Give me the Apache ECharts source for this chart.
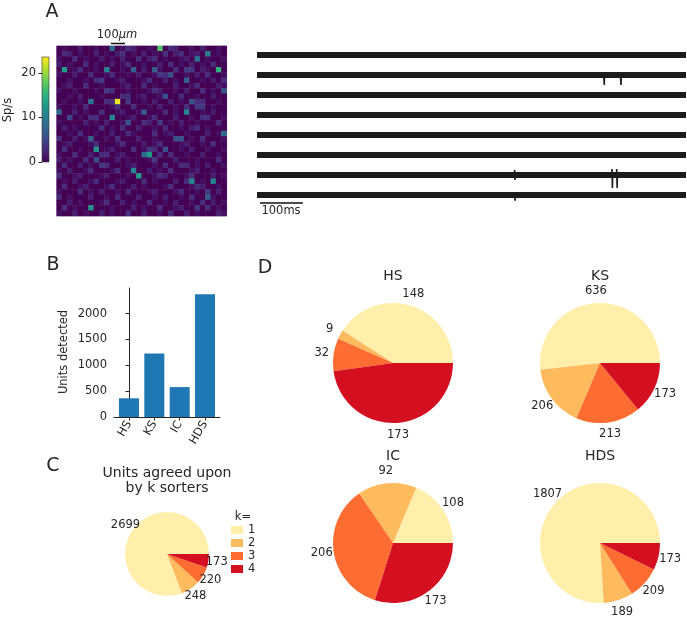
<!DOCTYPE html>
<html><head><meta charset="utf-8">
<script src="https://cdn.jsdelivr.net/npm/echarts@6/dist/echarts.min.js"></script>
<style>html,body{margin:0;padding:0;background:#fff}#c{width:687px;height:617px}</style>
</head><body><div id="c"></div>
<script>
// ---------------- data ----------------
const sorters = ['HS', 'KS', 'IC', 'HDS'];
const kLabels = ['1', '2', '3', '4'];
const unitsDetected = [362, 1228, 579, 2378];
const hsCounts = [148, 9, 32, 173];
const ksCounts = [636, 206, 213, 173];
const icCounts = [108, 92, 206, 173];
const hdsCounts = [1807, 189, 209, 173];
const agreedCounts = [2699, 248, 220, 173];
const barTicks = [0, 500, 1000, 1500, 2000];
const barCategoryTicks = [0, 1, 2, 3];
const cbarTicks = [0, 10, 20];
const cbarMax = 23.6;
// firing rate per electrode (Sp/s), one base-36 digit per cell, 32 x 32
const rateRows = [
  "0100200100801320010h032001020010",
  "0320100201023010201030230120a010",
  "10030100201020030230100120901001",
  "20100301002013001002030102010300",
  "0d0130010b00107020710030440210f0",
  "10020030013001020014360010203001",
  "00100103400120001300201070010203",
  "01200300100012003010002001300021",
  "10010001043001000132001020030106",
  "00102000100033012001600300100200",
  "01001090033n04001020020106330010",
  "10010300001300300102001030440100",
  "800201003001200170003010b0010200",
  "0050103300b001200130002001033001",
  "10000201020016003204010200100030",
  "02010000301030020010300102301000",
  "00103001002003100030120010002018",
  "30020170010300020010006601030001",
  "01200013000130002013000120010300",
  "0300100c012000301430600102001001",
  "10030020330120008d03030010020010",
  "20100306000201000140002000100030",
  "03002010430001200010300330102001",
  "10200130001300b00201030001200100",
  "300120001200010d0013200013000201",
  "0102001300012000301000203b010b00",
  "03001200013000201000130001320010",
  "10003010200103000120001300104020",
  "30100020010300020010200103007100",
  "00201000130020100300102001030201",
  "030100c0001000201003001200403010",
  "10020100201003002001030020100021"
];
// spikes on the 8 voltage traces: [time ms, up, down]
const traceSpikes = [
  [],
  [[809, 0.05, -0.5], [848, 0.05, -0.5]],
  [],
  [],
  [],
  [],
  [[601, 0.25, -0.25], [828, 0.3, -0.65], [839, 0.3, -0.65]],
  [[601, 0.05, -0.28]]
];
const traceDuration = 1000;
const timeScaleBar = [[7, -7.4], [107, -7.4]];

// ---------------- style ----------------
const FONT = 'DejaVu Sans';
const TXT = '#262626';
const kColors = ['#ffefaa', '#febb5e', '#fd6c30', '#d40f20'];
const viridis = ['#440154', '#482878', '#3e4989', '#31688e', '#26828e', '#1f9e89', '#35b779', '#6ece58', '#b5de2b', '#fde725'];

const heatData = [];
rateRows.forEach((row, r) => {
  for (let c = 0; c < row.length; c++) heatData.push([c, r, parseInt(row[c], 36)]);
});
const idx32 = Array.from({length: 32}, (_, i) => i);

const series = [];
series.push({
  type: 'heatmap', xAxisIndex: 0, yAxisIndex: 0, data: heatData,
  emphasis: {disabled: true}, silent: true
});
// traces
for (let i = 0; i < 8; i++) {
  const base = -i;
  series.push({
    type: 'line', xAxisIndex: 2, yAxisIndex: 2, symbol: 'none', silent: true,
    lineStyle: {color: '#1c1c1c', width: 6},
    data: [[0, base], [traceDuration, base]]
  });
  if (traceSpikes[i].length) {
    const pts = [[0, base]];
    traceSpikes[i].forEach(s => {
      pts.push([s[0] - 1, base], [s[0] - 0.5, base + s[1]], [s[0] + 0.5, base + s[2]], [s[0] + 1, base]);
    });
    pts.push([traceDuration, base]);
    series.push({
      type: 'line', xAxisIndex: 2, yAxisIndex: 2, symbol: 'none', silent: true,
      lineStyle: {color: '#1c1c1c', width: 1.6}, data: pts
    });
  }
}
series.push({
  type: 'line', xAxisIndex: 2, yAxisIndex: 2, symbol: 'none', silent: true,
  lineStyle: {color: '#111', width: 1.5}, data: timeScaleBar
});
// bars
series.push({
  type: 'bar', xAxisIndex: 3, yAxisIndex: 3, barWidth: 20, silent: true,
  itemStyle: {color: '#1f77b4'},
  data: unitsDetected.map((v, i) => [i, v])
});
// pies
function pies(counts, center, r) {
  const real = {
    type: 'pie', center: center, radius: r, startAngle: 0, clockwise: false,
    label: {show: false}, labelLine: {show: false}, silent: true,
    emphasis: {disabled: true}, itemStyle: {borderWidth: 0},
    data: counts.map((v, i) => ({name: kLabels[i], value: v, itemStyle: {color: kColors[i]}}))
  };
  const lab = {
    type: 'pie', center: center, radius: [r, r + 2 * (0.2 * r - 3)], startAngle: 0, clockwise: false,
    avoidLabelOverlap: false, silent: true, emphasis: {disabled: true},
    itemStyle: {color: 'rgba(0,0,0,0)', borderWidth: 0},
    label: {show: true, position: 'inside', formatter: '{c}', color: TXT, fontSize: 11.5, fontFamily: FONT},
    labelLine: {show: false},
    data: counts.map((v, i) => ({name: kLabels[i], value: v}))
  };
  return [real, lab];
}
const pieDefs = [
  [hsCounts, [393, 363], 60],
  [ksCounts, [600, 363], 60],
  [icCounts, [393, 543], 60],
  [hdsCounts, [600, 543], 60],
  [agreedCounts, [167, 554], 42]
];
const realPies = [], labPies = [];
pieDefs.forEach(d => { const p = pies(d[0], d[1], d[2]); realPies.push(p[0]); labPies.push(p[1]); });
series.push(...realPies, ...labPies);

function txt(x, y, text, size, extra) {
  return Object.assign({
    type: 'text', x: x, y: y, silent: true,
    style: Object.assign({text: text, textAlign: 'center', textVerticalAlign: 'middle',
      fontSize: size, fontFamily: FONT, fill: TXT}, (extra && extra.style) || {})
  }, extra && extra.rotation ? {rotation: extra.rotation} : {});
}

const axisCol = TXT;
const plain = v => String(v);
const option = {
  animation: false,
  backgroundColor: '#fff',
  textStyle: {fontFamily: FONT},
  grid: [
    {left: 56.7, top: 46, width: 170, height: 170, show: true, backgroundColor: 'transparent', borderColor: '#c9bccf', borderWidth: 1},
    {left: 42, top: 57, width: 7, height: 105, show: true, borderColor: '#333', borderWidth: 0.6,
      backgroundColor: {type: 'linear', x: 0, y: 1, x2: 0, y2: 0,
        colorStops: viridis.map((c, i) => ({offset: i / (viridis.length - 1), color: c}))}},
    {left: 257, top: 45, width: 429, height: 170},
    {left: 114, top: 288, width: 106, height: 129}
  ],
  xAxis: [
    {type: 'category', gridIndex: 0, data: idx32, show: false},
    {type: 'value', gridIndex: 1, show: false, min: 0, max: 1},
    {type: 'value', gridIndex: 2, show: false, min: 0, max: traceDuration},
    {type: 'value', gridIndex: 3, min: -0.59, max: 3.59,
      axisLine: {show: true, lineStyle: {color: axisCol, width: 1}},
      axisTick: {show: true, length: 3.5, customValues: barCategoryTicks, lineStyle: {color: axisCol}},
      axisLabel: {customValues: barCategoryTicks, rotate: 60, margin: 5, color: TXT, fontSize: 11.5, fontFamily: FONT,
        formatter: v => sorters[Math.round(v)]},
      splitLine: {show: false}}
  ],
  yAxis: [
    {type: 'category', gridIndex: 0, data: idx32, inverse: true, show: false},
    {type: 'value', gridIndex: 1, min: 0, max: cbarMax, position: 'left',
      axisLine: {show: false},
      axisTick: {show: true, length: 3.5, customValues: cbarTicks, lineStyle: {color: axisCol}},
      axisLabel: {customValues: cbarTicks, margin: 6, color: TXT, fontSize: 11.5, fontFamily: FONT, formatter: plain},
      splitLine: {show: false}},
    {type: 'value', gridIndex: 2, show: false, min: -8, max: 0.5},
    {type: 'value', gridIndex: 3, min: 0, max: 2497,
      axisLine: {show: true, lineStyle: {color: axisCol, width: 1}},
      axisTick: {show: true, length: 3.5, customValues: barTicks, lineStyle: {color: axisCol}},
      axisLabel: {customValues: barTicks, margin: 7, color: TXT, fontSize: 11.5, fontFamily: FONT, formatter: plain},
      splitLine: {show: false}}
  ],
  visualMap: {show: false, type: 'continuous', min: 0, max: cbarMax, seriesIndex: 0,
    inRange: {color: viridis}},
  legend: {
    data: kLabels, orient: 'vertical', left: 231, top: 524, itemWidth: 12, itemHeight: 8, itemGap: 1,
    padding: 0, selectedMode: false, icon: 'rect',
    textStyle: {fontSize: 11.5, color: TXT, fontFamily: FONT, lineHeight: 12}
  },
  graphic: [
    txt(52, 12, 'A', 19),
    txt(53, 265, 'B', 19),
    txt(53, 466, 'C', 19),
    txt(265, 268, 'D', 19),
    txt(117, 35, '100{i|μm}', 11.5, {style: {rich: {i: {fontStyle: 'italic', fontSize: 11.5, fontFamily: FONT, fill: TXT}}}}),
    {type: 'line', silent: true, shape: {x1: 111, y1: 43.5, x2: 125, y2: 43.5}, style: {stroke: '#111', lineWidth: 1.5}},
    txt(8, 110, 'Sp/s', 11.5, {rotation: Math.PI / 2}),
    txt(281, 211, '100ms', 11.5),
    txt(64, 352, 'Units detected', 11.5, {rotation: Math.PI / 2}),
    txt(393, 276, sorters[0], 14),
    txt(600, 276, sorters[1], 14),
    txt(393, 456, sorters[2], 14),
    txt(600, 456, sorters[3], 14),
    txt(167, 473, 'Units agreed upon', 14),
    txt(167, 488, 'by k sorters', 14),
    txt(243, 517, 'k=', 11.5)
  ],
  series: series
};
const chart = echarts.init(document.getElementById('c'), null, {renderer: 'canvas'});
chart.setOption(option);
</script>
</body></html>
